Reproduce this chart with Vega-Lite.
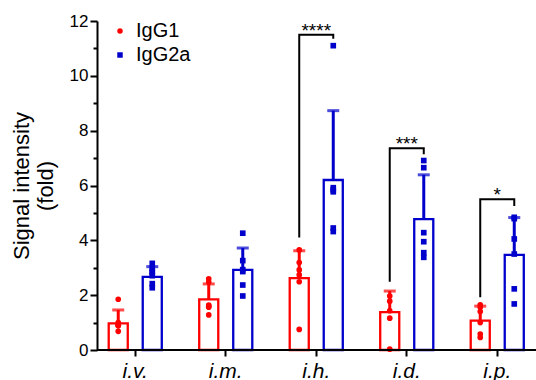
{
  "$schema": "https://vega.github.io/schema/vega-lite/v6.json",
  "width": 439,
  "height": 329,
  "autosize": {"type": "none"},
  "padding": {"left": 97, "top": 21, "right": 0, "bottom": 30},
  "config": {
    "font": "Liberation Sans",
    "view": {"stroke": null},
    "axis": {"grid": false, "domainColor": "black", "tickColor": "black", "labelColor": "black", "titleColor": "black"}
  },
  "resolve": {
    "axis": {"x": "independent", "y": "independent"},
    "legend": {"color": "independent", "shape": "independent", "stroke": "independent"}
  },
  "datasets": {
    "summary": [
      {"route": "i.v.", "group": "IgG1", "mean": 0.97, "upper": 1.46},
      {"route": "i.v.", "group": "IgG2a", "mean": 2.67, "upper": 3.04},
      {"route": "i.m.", "group": "IgG1", "mean": 1.85, "upper": 2.41},
      {"route": "i.m.", "group": "IgG2a", "mean": 2.92, "upper": 3.72},
      {"route": "i.h.", "group": "IgG1", "mean": 2.62, "upper": 3.62},
      {"route": "i.h.", "group": "IgG2a", "mean": 6.2, "upper": 8.73},
      {"route": "i.d.", "group": "IgG1", "mean": 1.38, "upper": 2.15},
      {"route": "i.d.", "group": "IgG2a", "mean": 4.77, "upper": 6.39},
      {"route": "i.p.", "group": "IgG1", "mean": 1.07, "upper": 1.6},
      {"route": "i.p.", "group": "IgG2a", "mean": 3.47, "upper": 4.83}
    ],
    "points": [
      {"route": "i.v.", "group": "IgG1", "value": 1.85},
      {"route": "i.v.", "group": "IgG1", "value": 1.0},
      {"route": "i.v.", "group": "IgG1", "value": 0.9},
      {"route": "i.v.", "group": "IgG1", "value": 0.88},
      {"route": "i.v.", "group": "IgG1", "value": 0.9},
      {"route": "i.v.", "group": "IgG1", "value": 0.68},
      {"route": "i.v.", "group": "IgG2a", "value": 3.16},
      {"route": "i.v.", "group": "IgG2a", "value": 2.88},
      {"route": "i.v.", "group": "IgG2a", "value": 2.98},
      {"route": "i.v.", "group": "IgG2a", "value": 2.82},
      {"route": "i.v.", "group": "IgG2a", "value": 2.71},
      {"route": "i.v.", "group": "IgG2a", "value": 2.42},
      {"route": "i.v.", "group": "IgG2a", "value": 2.27},
      {"route": "i.m.", "group": "IgG1", "value": 2.48},
      {"route": "i.m.", "group": "IgG1", "value": 2.6},
      {"route": "i.m.", "group": "IgG1", "value": 1.64},
      {"route": "i.m.", "group": "IgG1", "value": 1.56},
      {"route": "i.m.", "group": "IgG1", "value": 1.6},
      {"route": "i.m.", "group": "IgG1", "value": 1.28},
      {"route": "i.m.", "group": "IgG2a", "value": 4.26},
      {"route": "i.m.", "group": "IgG2a", "value": 3.26},
      {"route": "i.m.", "group": "IgG2a", "value": 2.93},
      {"route": "i.m.", "group": "IgG2a", "value": 2.86},
      {"route": "i.m.", "group": "IgG2a", "value": 2.37},
      {"route": "i.m.", "group": "IgG2a", "value": 1.97},
      {"route": "i.h.", "group": "IgG1", "value": 3.65},
      {"route": "i.h.", "group": "IgG1", "value": 3.19},
      {"route": "i.h.", "group": "IgG1", "value": 2.92},
      {"route": "i.h.", "group": "IgG1", "value": 2.74},
      {"route": "i.h.", "group": "IgG1", "value": 2.49},
      {"route": "i.h.", "group": "IgG1", "value": 0.75},
      {"route": "i.h.", "group": "IgG2a", "value": 11.1},
      {"route": "i.h.", "group": "IgG2a", "value": 5.92},
      {"route": "i.h.", "group": "IgG2a", "value": 5.84},
      {"route": "i.h.", "group": "IgG2a", "value": 5.77},
      {"route": "i.h.", "group": "IgG2a", "value": 4.45},
      {"route": "i.h.", "group": "IgG2a", "value": 4.32},
      {"route": "i.d.", "group": "IgG1", "value": 1.97},
      {"route": "i.d.", "group": "IgG1", "value": 1.78},
      {"route": "i.d.", "group": "IgG1", "value": 1.43},
      {"route": "i.d.", "group": "IgG1", "value": 1.16},
      {"route": "i.d.", "group": "IgG1", "value": 0.03},
      {"route": "i.d.", "group": "IgG2a", "value": 6.91},
      {"route": "i.d.", "group": "IgG2a", "value": 6.65},
      {"route": "i.d.", "group": "IgG2a", "value": 4.28},
      {"route": "i.d.", "group": "IgG2a", "value": 3.95},
      {"route": "i.d.", "group": "IgG2a", "value": 3.55},
      {"route": "i.d.", "group": "IgG2a", "value": 3.38},
      {"route": "i.p.", "group": "IgG1", "value": 1.56},
      {"route": "i.p.", "group": "IgG1", "value": 1.65},
      {"route": "i.p.", "group": "IgG1", "value": 1.4},
      {"route": "i.p.", "group": "IgG1", "value": 1.0},
      {"route": "i.p.", "group": "IgG1", "value": 0.58},
      {"route": "i.p.", "group": "IgG1", "value": 0.46},
      {"route": "i.p.", "group": "IgG2a", "value": 4.79},
      {"route": "i.p.", "group": "IgG2a", "value": 4.84},
      {"route": "i.p.", "group": "IgG2a", "value": 4.05},
      {"route": "i.p.", "group": "IgG2a", "value": 3.5},
      {"route": "i.p.", "group": "IgG2a", "value": 2.23},
      {"route": "i.p.", "group": "IgG2a", "value": 1.68}
    ],
    "brackets": [
      {"route": "i.h.", "group": "IgG1", "seq": 1, "y": 4.1},
      {"route": "i.h.", "group": "IgG1", "seq": 2, "y": 11.5},
      {"route": "i.h.", "group": "IgG2a", "seq": 3, "y": 11.5},
      {"route": "i.h.", "group": "IgG2a", "seq": 4, "y": 11.35},
      {"route": "i.d.", "group": "IgG1", "seq": 1, "y": 2.49},
      {"route": "i.d.", "group": "IgG1", "seq": 2, "y": 7.36},
      {"route": "i.d.", "group": "IgG2a", "seq": 3, "y": 7.36},
      {"route": "i.d.", "group": "IgG2a", "seq": 4, "y": 7.14},
      {"route": "i.p.", "group": "IgG1", "seq": 1, "y": 1.92},
      {"route": "i.p.", "group": "IgG1", "seq": 2, "y": 5.5},
      {"route": "i.p.", "group": "IgG2a", "seq": 3, "y": 5.5},
      {"route": "i.p.", "group": "IgG2a", "seq": 4, "y": 5.25}
    ],
    "stars": [
      {"route": "i.h.", "label": "****", "y": 11.5},
      {"route": "i.d.", "label": "***", "y": 7.36},
      {"route": "i.p.", "label": "*", "y": 5.5}
    ]
  },
  "layer": [
    {
      "data": {"name": "summary"},
      "mark": {"type": "bar", "fill": "white", "strokeWidth": 2.3},
      "encoding": {
        "x": {
          "field": "route", "type": "nominal",
          "sort": ["i.v.", "i.m.", "i.h.", "i.d.", "i.p."],
          "scale": {"range": [-7, 445.5], "paddingInner": 0, "paddingOuter": 0},
          "axis": {"title": null, "domain": false, "labelFontSize": 21, "labelFontStyle": "italic", "labelAngle": 0, "tickSize": 6, "tickWidth": 2, "labelPadding": 4}
        },
        "xOffset": {"field": "group", "type": "nominal", "sort": ["IgG1", "IgG2a"], "scale": {"paddingInner": 0.44, "paddingOuter": 0.55}},
        "y": {
          "field": "mean", "type": "quantitative",
          "scale": {"domain": [0, 12], "nice": false},
          "axis": {
            "values": [0, 1, 2, 3, 4, 5, 6, 7, 8, 9, 10, 11, 12],
            "labelExpr": "datum.value % 2 === 0 ? datum.label : ''",
            "tickSize": {"condition": {"test": "datum.value % 2 === 1", "value": 4}, "value": 7},
            "domainWidth": 2, "tickWidth": 2, "labelFontSize": 17, "labelPadding": 2,
            "title": ["Signal intensity", "(fold)"], "titleFontSize": 22, "titleLineHeight": 24, "titleFontWeight": "normal", "titlePadding": 12
          }
        },
        "stroke": {"field": "group", "type": "nominal", "scale": {"domain": ["IgG1", "IgG2a"], "range": ["#ff0000", "#0000cc"]}, "legend": null}
      }
    },
    {
      "data": {"name": "summary"},
      "mark": {"type": "rule", "strokeWidth": 3},
      "encoding": {
        "x": {"field": "route", "type": "nominal", "sort": ["i.v.", "i.m.", "i.h.", "i.d.", "i.p."], "axis": null},
        "xOffset": {"field": "group", "type": "nominal", "sort": ["IgG1", "IgG2a"]},
        "y": {"field": "mean", "type": "quantitative", "scale": {"domain": [0, 12], "nice": false}, "axis": null},
        "y2": {"field": "upper"},
        "color": {"field": "group", "type": "nominal", "scale": {"domain": ["IgG1", "IgG2a"], "range": ["#ff0000", "#0000cc"]}, "legend": null}
      }
    },
    {
      "data": {"name": "summary"},
      "mark": {"type": "tick", "thickness": 3, "size": 12, "orient": "horizontal"},
      "encoding": {
        "x": {"field": "route", "type": "nominal", "sort": ["i.v.", "i.m.", "i.h.", "i.d.", "i.p."], "axis": null},
        "xOffset": {"field": "group", "type": "nominal", "sort": ["IgG1", "IgG2a"]},
        "y": {"field": "upper", "type": "quantitative", "scale": {"domain": [0, 12], "nice": false}, "axis": null},
        "color": {"field": "group", "type": "nominal", "scale": {"domain": ["IgG1", "IgG2a"], "range": ["#ff0000", "#0000cc"]}, "legend": null}
      }
    },
    {
      "data": {"name": "points"},
      "mark": {"type": "point", "filled": true, "size": 32, "opacity": 1},
      "encoding": {
        "x": {"field": "route", "type": "nominal", "sort": ["i.v.", "i.m.", "i.h.", "i.d.", "i.p."], "axis": null},
        "xOffset": {"field": "group", "type": "nominal", "sort": ["IgG1", "IgG2a"]},
        "y": {"field": "value", "type": "quantitative", "scale": {"domain": [0, 12], "nice": false}, "axis": null},
        "color": {
          "field": "group", "type": "nominal",
          "scale": {"domain": ["IgG1", "IgG2a"], "range": ["#ff0000", "#0000cc"]},
          "legend": {"orient": "none", "legendX": 13, "legendY": 0, "title": null, "labelFontSize": 20, "symbolSize": 30, "labelOffset": 6, "rowPadding": 4, "padding": 0, "labelColor": "black"}
        },
        "shape": {
          "field": "group", "type": "nominal",
          "scale": {"domain": ["IgG1", "IgG2a"], "range": ["circle", "square"]},
          "legend": {"orient": "none", "legendX": 13, "legendY": 0, "title": null, "labelFontSize": 20, "symbolSize": 30, "labelOffset": 6, "rowPadding": 4, "padding": 0, "labelColor": "black"}
        }
      }
    },
    {
      "data": {"name": "brackets"},
      "mark": {"type": "line", "color": "black", "strokeWidth": 2, "strokeJoin": "miter"},
      "encoding": {
        "x": {"field": "route", "type": "nominal", "sort": ["i.v.", "i.m.", "i.h.", "i.d.", "i.p."], "axis": null},
        "xOffset": {"field": "group", "type": "nominal", "sort": ["IgG1", "IgG2a"]},
        "y": {"field": "y", "type": "quantitative", "scale": {"domain": [0, 12], "nice": false}, "axis": null},
        "detail": {"field": "route", "type": "nominal"},
        "order": {"field": "seq", "type": "quantitative"}
      }
    },
    {
      "data": {"name": "stars"},
      "mark": {"type": "text", "fontSize": 19, "baseline": "alphabetic", "dy": 2, "color": "black"},
      "encoding": {
        "x": {"field": "route", "type": "nominal", "sort": ["i.v.", "i.m.", "i.h.", "i.d.", "i.p."], "axis": null},
        "y": {"field": "y", "type": "quantitative", "scale": {"domain": [0, 12], "nice": false}, "axis": null},
        "text": {"field": "label"}
      }
    },
    {
      "data": {"values": [{}]},
      "mark": {"type": "rule", "strokeWidth": 2, "color": "black"},
      "encoding": {
        "y": {"datum": 0, "type": "quantitative", "scale": {"domain": [0, 12], "nice": false}, "axis": null}
      }
    }
  ]
}
